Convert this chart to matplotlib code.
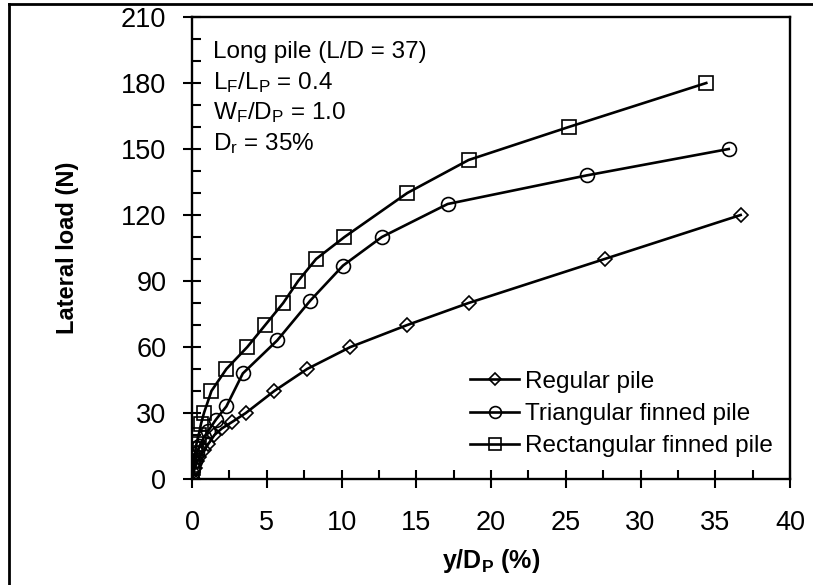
import matplotlib
matplotlib.use('Agg')
import matplotlib.pyplot as plt
from matplotlib.lines import Line2D
from matplotlib.ticker import MultipleLocator

plt.rcParams['font.family'] = ['Liberation Sans', 'DejaVu Sans']
plt.rcParams['mathtext.fontset'] = 'custom'
plt.rcParams['mathtext.rm'] = 'Liberation Sans'
plt.rcParams['mathtext.it'] = 'Liberation Sans'
plt.rcParams['mathtext.bf'] = 'Liberation Sans:bold'

# === DATA ===
reg_x = [0, 0.1, 0.2, 0.35, 0.5, 0.8, 1.1, 1.5, 2.0, 2.7, 3.6, 5.5, 7.7, 10.6, 14.4, 18.5, 27.6, 36.7]
reg_y = [0, 3, 5, 8, 10, 13, 16, 20, 23, 26, 30, 40, 50, 60, 70, 80, 100, 120]

tri_x = [0, 0.1, 0.2, 0.35, 0.5, 0.8, 1.1, 1.6, 2.3, 3.4, 5.7, 7.9, 10.1, 12.7, 17.1, 26.4, 35.9]
tri_y = [0, 5, 8, 12, 15, 19, 22, 27, 33, 48, 63, 81, 97, 110, 125, 138, 150]

rec_x = [0, 0.05, 0.1, 0.2, 0.3, 0.45, 0.6, 0.8, 1.3, 2.3, 3.7, 4.9, 6.1, 7.1, 8.3, 10.2, 14.4, 18.5, 25.2, 34.4]
rec_y = [0, 5, 8, 12, 16, 20, 25, 30, 40, 50, 60, 70, 80, 90, 100, 110, 130, 145, 160, 180]

x_ticks = [0, 5, 10, 15, 20, 25, 30, 35, 40]
y_ticks = [0, 30, 60, 90, 120, 150, 180, 210]

notes = ['Long pile (L/D = 37)',
         r'L$_\mathrm{F}$/L$_\mathrm{P}$ = 0.4',
         r'W$_\mathrm{F}$/D$_\mathrm{P}$ = 1.0',
         r'D$_\mathrm{r}$ = 35%']

# === PLOT ===
fig = plt.figure(figsize=(8.13, 5.85), dpi=100)
ax = fig.add_axes([192/813, 1 - 479/585, (790-192)/813, (479-17)/585])

mk = dict(color='black', linewidth=1.9, markerfacecolor='none',
          markeredgecolor='black', markeredgewidth=1.2)
ax.plot(reg_x, reg_y, marker='D', markersize=7.5, label='Regular pile', **mk)
ax.plot(tri_x, tri_y, marker='o', markersize=10, label='Triangular finned pile', **mk)
ax.plot(rec_x, rec_y, marker='s', markersize=10.5, label='Rectangular finned pile', **mk)

ax.set_xlim(0, 40)
ax.set_ylim(0, 210)
ax.set_xticks(x_ticks)
ax.set_yticks(y_ticks)
ax.xaxis.set_minor_locator(MultipleLocator(2.5))
ax.yaxis.set_minor_locator(MultipleLocator(10))
ax.tick_params(which='major', direction='inout', length=13, width=1.5, labelsize=19.5)
ax.tick_params(axis='x', which='major', pad=16)
ax.tick_params(axis='y', which='major', pad=12)
ax.tick_params(which='minor', direction='in', length=6.5, width=1.5)
for s in ax.spines.values():
    s.set_linewidth(1.7)

ax.set_xlabel(r'y/D$_\mathbf{P}$ (%)', fontsize=18, fontweight='bold', labelpad=8)
ax.set_ylabel('Lateral load (N)', fontsize=17, fontweight='bold', labelpad=30)

# notes, placed in pixel coords from the top-left corner
for i, t in enumerate(notes):
    ax.text(213/100, (585 - (52 + i*30.5))/100, t, transform=fig.dpi_scale_trans,
            fontsize=17.5, va='center', ha='left')

ax.legend(loc='lower right', bbox_to_anchor=(1.0, 0.01), frameon=False, fontsize=17.5,
          handlelength=2.0, handletextpad=0.25, labelspacing=0.42, numpoints=1,
          markerscale=0.85, borderaxespad=0.3)

# figure border (left and top only, picture is cropped)
fig.add_artist(Line2D([9/813, 9/813], [0, 1 - 4/585], color='black', linewidth=2,
                      transform=fig.transFigure))
fig.add_artist(Line2D([9/813, 1], [1 - 4/585, 1 - 4/585], color='black', linewidth=2,
                      transform=fig.transFigure))

plt.savefig('out.png', dpi=100)
